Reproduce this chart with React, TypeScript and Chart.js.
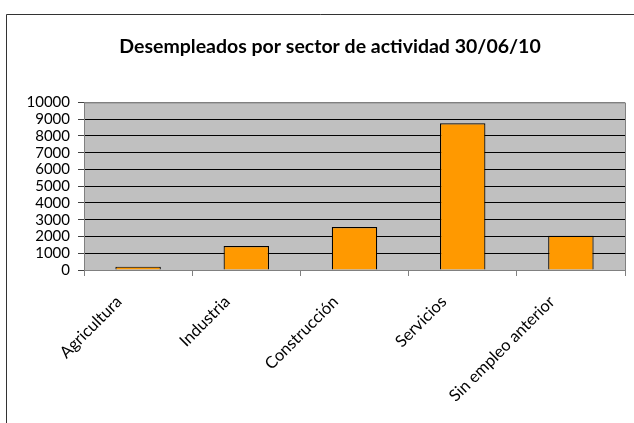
import React, { useEffect, useRef } from "react";
import { Chart, registerables } from "chart.js";

Chart.register(...registerables);

const TITLE = "Desempleados por sector de actividad 30/06/10";
const CATEGORIES = ["Agricultura", "Industria", "Construcción", "Servicios", "Sin empleo anterior"];
const VALUES = [200, 1430, 2570, 8750, 2040];
const Y_MIN = 0;
const Y_MAX = 10000;
const Y_STEP = 1000;

const framePlugin = {
  id: "frame",
  afterLayout(chart: any) {
    // the original title is centred on the full (wider) chart object
    if (chart.titleBlock) chart.titleBlock.left = 35;
  },
  beforeDraw(chart: any) {
    const { ctx, chartArea } = chart;
    ctx.save();
    ctx.fillStyle = "#ffffff";
    ctx.fillRect(0, 0, chart.width, chart.height);
    ctx.fillStyle = "#C0C0C0";
    ctx.fillRect(chartArea.left, chartArea.top, chartArea.right - chartArea.left, chartArea.bottom - chartArea.top);
    ctx.restore();
  },
  afterDraw(chart: any) {
    const { ctx, chartArea } = chart;
    ctx.save();
    ctx.strokeStyle = "#808080";
    ctx.lineWidth = 1;
    ctx.beginPath();
    ctx.moveTo(chartArea.left, chartArea.top + 0.5);
    ctx.lineTo(chartArea.right + 0.5, chartArea.top + 0.5);
    ctx.lineTo(chartArea.right + 0.5, chartArea.bottom);
    ctx.stroke();
    // outer chart border (only top and left visible in the crop)
    ctx.strokeStyle = "#333333";
    ctx.beginPath();
    ctx.moveTo(6.5, chart.height + 2);
    ctx.lineTo(6.5, 14.5);
    ctx.lineTo(chart.width + 2, 14.5);
    ctx.stroke();
    ctx.restore();
  },
};

export default function App() {
  const ref = useRef<HTMLCanvasElement | null>(null);
  useEffect(() => {
    if (!ref.current) return;
    const chart = new Chart(ref.current, {
      type: "bar",
      data: {
        labels: CATEGORIES,
        datasets: [
          {
            data: VALUES,
            backgroundColor: "#FF9900",
            borderColor: "#000000",
            borderWidth: 1.2,
            barPercentage: 0.42,
            categoryPercentage: 1,
          },
        ],
      },
      options: {
        responsive: false,
        animation: false,
        layout: { padding: { left: 0, right: 9, top: 0, bottom: 0 } },
        plugins: {
          legend: { display: false },
          tooltip: { enabled: false },
          title: {
            display: true,
            text: TITLE,
            color: "#000000",
            font: { family: "Lato", size: 19.5, weight: "bold" },
            padding: { top: 35, bottom: 44 },
          },
        },
        scales: {
          y: {
            min: Y_MIN,
            max: Y_MAX,
            afterFit: (s: any) => {
              s.width = 84;
            },
            ticks: {
              stepSize: Y_STEP,
              autoSkip: false,
              color: "#000000",
              padding: 8,
              font: { family: "Lato", size: 15 },
              callback: (v: any) => String(v),
            },
            grid: {
              color: (c: any) => (c.tick && c.tick.value === Y_MAX ? "#808080" : "#000000"),
              tickColor: "#404040",
              tickLength: 6,
              lineWidth: 1,
            },
            border: { color: "#808080" },
          },
          x: {
            type: "category",
            offset: true,
            afterFit: (s: any) => {
              s.height = 153;
              s.paddingLeft = 0;
              s.paddingRight = 0;
            },
            ticks: {
              autoSkip: false,
              maxRotation: 45,
              minRotation: 45,
              labelOffset: -19,
              padding: 16,
              color: "#000000",
              font: { family: "Lato", size: 16.5 },
            },
            grid: {
              offset: true,
              drawOnChartArea: false,
              drawTicks: true,
              tickLength: 6,
              tickColor: "#808080",
            },
            border: { color: "#808080" },
          },
        },
      },
      plugins: [framePlugin],
    });
    return () => chart.destroy();
  }, []);
  return (
    <div style={{ position: "fixed", left: 0, top: 0, width: 634, height: 423, background: "#fff" }}>
      <canvas ref={ref} width={634} height={423} style={{ display: "block" }} />
    </div>
  );
}
